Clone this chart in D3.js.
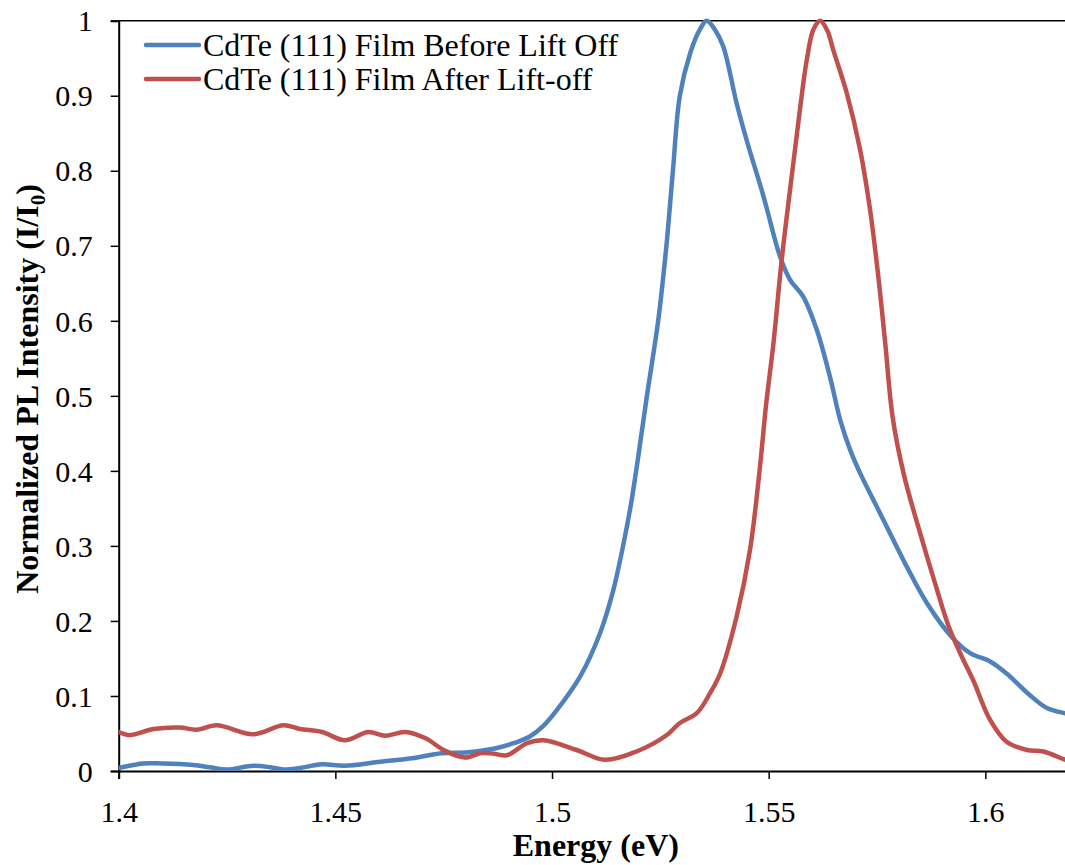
<!DOCTYPE html>
<html>
<head>
<meta charset="utf-8">
<script src="https://cdn.jsdelivr.net/npm/d3@7"></script>
<style>
  html, body { margin: 0; padding: 0; background: #fff; }
  svg { display: block; }
</style>
</head>
<body>
<svg id="chart" width="1065" height="865"></svg>
<script>
// Photoluminescence spectra, normalised intensity vs. photon energy (eV)
const beforeEnergy = [1.400, 1.4057, 1.410, 1.4172, 1.421, 1.4249, 1.4311, 1.435, 1.438, 1.4418,
  1.4469, 1.4522, 1.4599, 1.4676, 1.4745, 1.4807, 1.4868, 1.4911, 1.4949, 1.498, 1.5011,
  1.5065, 1.5111, 1.5141, 1.5164, 1.5182, 1.5198, 1.5219, 1.5245, 1.5264, 1.5279, 1.5295,
  1.5319, 1.5341, 1.5357, 1.5376, 1.5395, 1.5426, 1.5449, 1.5488, 1.5526, 1.5549, 1.558,
  1.5611, 1.5642, 1.5665, 1.5688, 1.5711, 1.5742, 1.578, 1.5819, 1.5865, 1.5922, 1.5965,
  1.6011, 1.6049, 1.6103, 1.6142, 1.6184, 1.620];
const beforeIntensity = [0.004, 0.010, 0.010, 0.008, 0.005, 0.002, 0.007, 0.005, 0.002, 0.004,
  0.009, 0.007, 0.012, 0.017, 0.0236, 0.025, 0.030, 0.037, 0.046, 0.060, 0.081,
  0.126, 0.184, 0.240, 0.300, 0.355, 0.415, 0.500, 0.600, 0.700, 0.800, 0.900,
  0.957, 0.988, 1.000, 0.988, 0.966, 0.890, 0.841, 0.766, 0.686, 0.655, 0.632,
  0.588, 0.524, 0.468, 0.428, 0.397, 0.361, 0.317, 0.272, 0.224, 0.179, 0.157,
  0.146, 0.130, 0.101, 0.084, 0.077, 0.075];

const afterEnergy = [1.400, 1.4026, 1.408, 1.4141, 1.418, 1.4226, 1.4311, 1.438, 1.4418, 1.4469,
  1.4522, 1.4576, 1.4615, 1.4661, 1.4707, 1.4753, 1.4799, 1.4838, 1.4866, 1.4896, 1.4942,
  1.498, 1.5057, 1.5122, 1.5195, 1.5265, 1.5295, 1.5334, 1.5365, 1.5388, 1.5426, 1.5457,
  1.548, 1.5494, 1.5511, 1.553, 1.5553, 1.5572, 1.5588, 1.5603, 1.5619, 1.5636, 1.5649,
  1.568, 1.5711, 1.5734, 1.5753, 1.5769, 1.5786, 1.5812, 1.5848, 1.5884, 1.5914, 1.5942,
  1.5972, 1.6011, 1.6049, 1.6096, 1.6134, 1.6184, 1.620];
const afterIntensity = [0.052, 0.048, 0.056, 0.058, 0.055, 0.061, 0.049, 0.061, 0.056, 0.052,
  0.041, 0.052, 0.047, 0.052, 0.044, 0.027, 0.018, 0.024, 0.023, 0.021, 0.037,
  0.041, 0.028, 0.015, 0.026, 0.048, 0.064, 0.077, 0.104, 0.130, 0.206, 0.295,
  0.406, 0.488, 0.570, 0.681, 0.792, 0.881, 0.948, 0.988, 1.000, 0.986, 0.961,
  0.904, 0.828, 0.748, 0.659, 0.570, 0.472, 0.395, 0.320, 0.250, 0.195, 0.157,
  0.121, 0.068, 0.039, 0.028, 0.026, 0.015, 0.012];

const seriesNames = ["CdTe (111) Film Before Lift Off", "CdTe (111) Film After Lift-off"];
const seriesColors = ["#4F81BD", "#C0504D"];
const xTicks = [1.4, 1.45, 1.5, 1.55, 1.6];
const yTicks = [0, 0.1, 0.2, 0.3, 0.4, 0.5, 0.6, 0.7, 0.8, 0.9, 1];
const xTitle = "Energy (eV)";

const svg = d3.select("#chart");
const plotLeft = 118.7, plotRight = 1072, plotTop = 20.7, plotBottom = 771;

const x = d3.scaleLinear().domain([1.4, 1.62]).range([plotLeft, plotRight]);
const y = d3.scaleLinear().domain([0, 1]).range([plotBottom, plotTop]);

const serif = "Liberation Serif, Times New Roman, serif";

// plot frame (top and right edges)
svg.append("path")
  .attr("d", `M${plotLeft},${plotTop}H${plotRight}V${plotBottom}`)
  .attr("fill", "none").attr("stroke", "#000").attr("stroke-width", 1.5);

// y axis
const yAxis = svg.append("g")
  .attr("transform", `translate(${plotLeft},0)`)
  .call(d3.axisLeft(y).tickValues(yTicks).tickSize(8).tickPadding(18)
    .tickFormat(d => d3.format("~g")(d)));
// x axis
const xAxis = svg.append("g")
  .attr("transform", `translate(0,${plotBottom})`)
  .call(d3.axisBottom(x).tickValues(xTicks).tickSize(8).tickPadding(20)
    .tickFormat(d => d3.format("~g")(d)));

[xAxis, yAxis].forEach(g => {
  g.attr("font-family", serif).attr("font-size", 30);
  g.select(".domain").attr("stroke", "#000").attr("stroke-width", 2);
  g.selectAll(".tick line").attr("stroke", "#000").attr("stroke-width", 1.5);
  g.selectAll(".tick text").attr("fill", "#000");
});
xAxis.selectAll(".tick text").attr("dy", "0.78em");
yAxis.selectAll(".tick text").attr("dy", "0.34em");

// data lines
const line = d3.line().x(d => x(d[0])).y(d => y(d[1])).curve(d3.curveCatmullRom.alpha(0.5));
const series = [
  d3.zip(beforeEnergy, beforeIntensity),
  d3.zip(afterEnergy, afterIntensity)
];
svg.append("defs").append("clipPath").attr("id", "plotClip")
  .append("rect").attr("x", plotLeft).attr("y", plotTop - 5)
  .attr("width", plotRight - plotLeft).attr("height", plotBottom - plotTop + 5);

svg.append("g").attr("clip-path", "url(#plotClip)")
  .selectAll("path.series").data(series).join("path")
  .attr("class", "series")
  .attr("d", line)
  .attr("fill", "none")
  .attr("stroke", (d, i) => seriesColors[i])
  .attr("stroke-width", 4.5)
  .attr("stroke-linejoin", "round")
  .attr("stroke-linecap", "round");

// legend
const legend = svg.append("g").attr("font-family", serif).attr("font-size", 32);
seriesNames.forEach((name, i) => {
  const ly = 45 + i * 34;
  legend.append("line")
    .attr("x1", 146).attr("x2", 199).attr("y1", ly).attr("y2", ly)
    .attr("stroke", seriesColors[i]).attr("stroke-width", 4.5).attr("stroke-linecap", "round");
  legend.append("text")
    .attr("x", 203).attr("y", ly).attr("dy", "0.34em")
    .text(name);
});

// axis titles
svg.append("text")
  .attr("x", (plotLeft + 1065) / 2 + 4).attr("y", 856)
  .attr("text-anchor", "middle")
  .attr("font-family", serif).attr("font-size", 32).attr("font-weight", "bold")
  .text(xTitle);

const yTitle = svg.append("text")
  .attr("transform", "translate(38,389) rotate(-90)")
  .attr("text-anchor", "middle")
  .attr("font-family", serif).attr("font-size", 32).attr("font-weight", "bold");
yTitle.append("tspan").text("Normalized PL Intensity (I/I");
yTitle.append("tspan").attr("dy", 7).attr("font-size", 21).text("0");
yTitle.append("tspan").attr("dy", -7).text(")");
</script>
</body>
</html>
